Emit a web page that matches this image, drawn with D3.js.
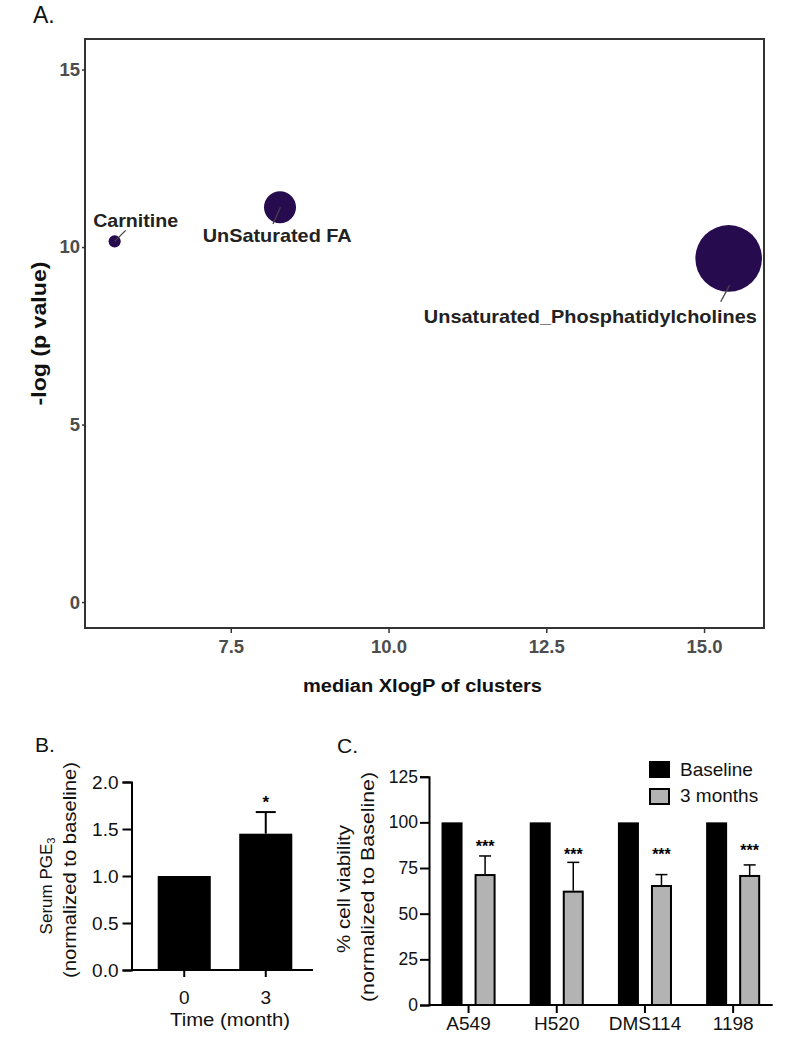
<!DOCTYPE html>
<html><head><meta charset="utf-8">
<script src="https://cdn.jsdelivr.net/npm/d3@7"></script>
<style>
body{margin:0;background:#fff}
svg{display:block;font-family:"Liberation Sans",Arial,Helvetica,sans-serif}
</style>
</head><body>
<svg id="chart" width="799" height="1050"></svg>
<script>
// ---------- Panel A data ----------
const clusterNames = ["Carnitine", "UnSaturated FA", "Unsaturated_Phosphatidylcholines"];
const medianXlogP = [5.66, 8.28, 15.39];
const negLogP = [10.16, 11.12, 9.68];
const clusterSize = [4, 28, 121];
const xTicksA = [7.5, 10.0, 12.5, 15.0];
const yTicksA = [0, 5, 10, 15];

// ---------- Panel B data ----------
const timeMonths = ["0", "3"];
const pge3Mean = [1.0, 1.45];
const pge3Err = [0, 0.23];
const pge3Sig = ["", "*"];
const pge3SigLevel = [null, 1.83];
const yTicksB = [0, 0.5, 1.0, 1.5, 2.0];

// ---------- Panel C data ----------
const cellLines = ["A549", "H520", "DMS114", "1198"];
const groups = ["Baseline", "3 months"];
const baselineViability = [100, 100, 100, 100];
const threeMonthViability = [71.7, 62.6, 65.7, 71.2];
const threeMonthErr = [9.9, 15.5, 5.7, 5.5];
const sigLabels = ["***", "***", "***", "***"];
const sigLevel = [88.7, 84.5, 84.5, 86.5];
const yTicksC = [0, 25, 50, 75, 100, 125];

const svg = d3.select("#chart");

// =============== PANEL A ===============
const A = {left: 85, right: 764, top: 39, bottom: 628};
const xA = d3.scaleLinear().domain([5.19, 15.95]).range([A.left, A.right]);
const yA = d3.scaleLinear().domain([-0.73, 15.86]).range([A.bottom, A.top]);
const rA = d3.scaleSqrt().domain([0, d3.max(clusterSize)]).range([0, 33.3]);

svg.append("text").attr("x", 33).attr("y", 23).attr("font-size", 23).attr("fill", "#111").text("A.");

const gA = svg.append("g");
gA.append("rect").attr("x", A.left).attr("y", A.top)
  .attr("width", A.right - A.left).attr("height", A.bottom - A.top)
  .attr("fill", "none").attr("stroke", "#333").attr("stroke-width", 2);

const axAy = gA.append("g").attr("transform", `translate(${A.left},0)`)
  .call(d3.axisLeft(yA).tickValues(yTicksA).tickSize(3).tickPadding(2).tickFormat(d3.format("d")));
const axAx = gA.append("g").attr("transform", `translate(0,${A.bottom})`)
  .call(d3.axisBottom(xA).tickValues(xTicksA).tickSize(5).tickPadding(7).tickFormat(d3.format(".1f")));
[axAy, axAx].forEach(g => {
  g.select(".domain").remove();
  g.selectAll(".tick line").attr("stroke", "#333").attr("stroke-width", 1.5);
  g.selectAll(".tick text").attr("font-size", 18.5).attr("font-weight", "bold")
    .attr("fill", "#4d4d4d").attr("font-family", "Liberation Sans, Arial, sans-serif");
});

svg.append("text").attr("transform", `translate(46,${(A.top + A.bottom) / 2}) rotate(-90)`)
  .attr("text-anchor", "middle").attr("font-size", 20).attr("font-weight", "bold")
  .attr("textLength", 144).attr("lengthAdjust", "spacingAndGlyphs").attr("fill", "#111")
  .text("-log (p value)");
svg.append("text").attr("x", (A.left + A.right) / 2 - 2).attr("y", 692)
  .attr("text-anchor", "middle").attr("font-size", 18).attr("font-weight", "bold")
  .attr("textLength", 239).attr("lengthAdjust", "spacingAndGlyphs").attr("fill", "#111")
  .text("median XlogP of clusters");

const bubbles = clusterNames.map((n, i) => ({name: n, x: medianXlogP[i], y: negLogP[i], s: clusterSize[i]}));
// label placement (repel-style offsets in px from the point)
const labelLayout = [
  {dx: 21, dy: -14, len: 85, seg: [0, 0, 11, -11]},
  {dx: -2.8, dy: 34.7, len: 149, seg: [0.4, 0, -7, 16.7]},
  {dx: -138.3, dy: 64.7, len: 333, seg: [1, 26.7, -8, 43.4]}
];
gA.selectAll("circle.b").data(bubbles).join("circle").attr("class", "b")
  .attr("cx", d => xA(d.x)).attr("cy", d => yA(d.y)).attr("r", d => rA(d.s))
  .attr("fill", "#260c4f");
gA.selectAll("line.seg").data(bubbles).join("line").attr("class", "seg")
  .attr("x1", (d, i) => xA(d.x) + labelLayout[i].seg[0])
  .attr("y1", (d, i) => yA(d.y) + labelLayout[i].seg[1])
  .attr("x2", (d, i) => xA(d.x) + labelLayout[i].seg[2])
  .attr("y2", (d, i) => yA(d.y) + labelLayout[i].seg[3])
  .attr("stroke", "#444").attr("stroke-width", 1.3);
gA.selectAll("text.lab").data(bubbles).join("text").attr("class", "lab")
  .attr("x", (d, i) => xA(d.x) + labelLayout[i].dx)
  .attr("y", (d, i) => yA(d.y) + labelLayout[i].dy)
  .attr("text-anchor", "middle").attr("font-size", 18.5).attr("font-weight", "bold")
  .attr("fill", "#222")
  .attr("textLength", (d, i) => labelLayout[i].len).attr("lengthAdjust", "spacingAndGlyphs")
  .text(d => d.name);

// =============== PANEL B ===============
const B = {left: 131.5, right: 313, top: 782, bottom: 970};
const yB = d3.scaleLinear().domain([0, 2]).range([B.bottom, B.top]);
const xB = d3.scaleBand().domain(timeMonths).range([137, B.right]).paddingInner(0.349).paddingOuter(0.254);

svg.append("text").attr("x", 35).attr("y", 752).attr("font-size", 21).attr("fill", "#111").text("B.");
const gB = svg.append("g");
const bData = timeMonths.map((t, i) => ({t, v: pge3Mean[i], e: pge3Err[i], s: pge3Sig[i], sl: pge3SigLevel[i]}));

gB.selectAll("rect.bar").data(bData).join("rect").attr("class", "bar")
  .attr("x", d => xB(d.t)).attr("width", xB.bandwidth())
  .attr("y", d => yB(d.v)).attr("height", d => yB(0) - yB(d.v)).attr("fill", "#000");
const bErr = bData.filter(d => d.e > 0);
gB.selectAll("line.ev").data(bErr).join("line").attr("class", "ev")
  .attr("x1", d => xB(d.t) + xB.bandwidth() / 2).attr("x2", d => xB(d.t) + xB.bandwidth() / 2)
  .attr("y1", d => yB(d.v)).attr("y2", d => yB(d.v + d.e)).attr("stroke", "#000").attr("stroke-width", 2);
gB.selectAll("line.ec").data(bErr).join("line").attr("class", "ec")
  .attr("x1", d => xB(d.t) + xB.bandwidth() / 2 - 10).attr("x2", d => xB(d.t) + xB.bandwidth() / 2 + 10)
  .attr("y1", d => yB(d.v + d.e)).attr("y2", d => yB(d.v + d.e)).attr("stroke", "#000").attr("stroke-width", 2);
gB.selectAll("text.sig").data(bData.filter(d => d.s)).join("text").attr("class", "sig")
  .attr("x", d => xB(d.t) + xB.bandwidth() / 2).attr("y", d => yB(d.sl) + 10)
  .attr("text-anchor", "middle").attr("font-size", 17).attr("font-weight", "bold").text(d => d.s);

const axBy = gB.append("g").attr("transform", `translate(${B.left},0)`)
  .call(d3.axisLeft(yB).tickValues(yTicksB).tickSize(9).tickPadding(4).tickFormat(d3.format(".1f")));
axBy.select(".domain").attr("stroke", "#000").attr("stroke-width", 2);
axBy.selectAll(".tick line").attr("stroke", "#000").attr("stroke-width", 2);
axBy.selectAll(".tick text").attr("font-size", 19).attr("fill", "#111").attr("font-family", "Liberation Sans, Arial, sans-serif");
gB.append("line").attr("x1", B.left).attr("x2", B.right).attr("y1", yB(0)).attr("y2", yB(0))
  .attr("stroke", "#000").attr("stroke-width", 2);
const axBx = gB.append("g").attr("transform", `translate(0,${B.bottom})`)
  .call(d3.axisBottom(xB).tickSize(7).tickPadding(14));
axBx.select(".domain").remove();
axBx.selectAll(".tick line").attr("stroke", "#000").attr("stroke-width", 2);
axBx.selectAll(".tick text").attr("font-size", 19).attr("fill", "#111").attr("font-family", "Liberation Sans, Arial, sans-serif");

svg.append("text").attr("x", 230).attr("y", 1026).attr("text-anchor", "middle").attr("font-size", 19)
  .attr("textLength", 120).attr("lengthAdjust", "spacingAndGlyphs").attr("fill", "#111").text("Time (month)");
const tB1 = svg.append("text").attr("transform", "translate(52,886) rotate(-90)")
  .attr("text-anchor", "middle").attr("font-size", 17).attr("fill", "#111");
tB1.append("tspan").text("Serum PGE");
tB1.append("tspan").attr("font-size", 11).attr("dy", 3).text("3");
svg.append("text").attr("transform", "translate(76,870) rotate(-90)")
  .attr("text-anchor", "middle").attr("font-size", 17.5).attr("fill", "#111")
  .attr("textLength", 216).attr("lengthAdjust", "spacingAndGlyphs").text("(normalized to baseline)");

// =============== PANEL C ===============
const C = {left: 429, right: 772.7, top: 776.7, bottom: 1005};
const yC = d3.scaleLinear().domain([0, 125]).range([C.bottom, C.top]);
const xC = d3.scaleBand().domain(cellLines).range([C.left, C.right]).paddingInner(0.387).paddingOuter(0.142);
const xS = d3.scaleBand().domain(groups).range([0, xC.bandwidth()]).paddingInner(0.364);
const colors = {"Baseline": "#000", "3 months": "#b3b3b3"};

svg.append("text").attr("x", 337).attr("y", 753).attr("font-size", 21).attr("fill", "#111").text("C.");
const gC = svg.append("g");
const cData = [];
cellLines.forEach((c, i) => {
  cData.push({c, g: "Baseline", v: baselineViability[i], e: 0});
  cData.push({c, g: "3 months", v: threeMonthViability[i], e: threeMonthErr[i], s: sigLabels[i], sl: sigLevel[i]});
});
const cErr = cData.filter(d => d.e > 0);
const cx = d => xC(d.c) + xS(d.g) + xS.bandwidth() / 2;
gC.selectAll("line.ev").data(cErr).join("line").attr("class", "ev")
  .attr("x1", cx).attr("x2", cx).attr("y1", d => yC(d.v)).attr("y2", d => yC(d.v + d.e))
  .attr("stroke", "#000").attr("stroke-width", 1.5);
gC.selectAll("line.ec").data(cErr).join("line").attr("class", "ec")
  .attr("x1", d => cx(d) - 6).attr("x2", d => cx(d) + 6)
  .attr("y1", d => yC(d.v + d.e)).attr("y2", d => yC(d.v + d.e))
  .attr("stroke", "#000").attr("stroke-width", 1.5);
gC.selectAll("rect.bar").data(cData).join("rect").attr("class", "bar")
  .attr("x", d => xC(d.c) + xS(d.g) + 1).attr("width", xS.bandwidth() - 2)
  .attr("y", d => yC(d.v) + 1).attr("height", d => yC(0) - yC(d.v) - 1)
  .attr("fill", d => colors[d.g]).attr("stroke", "#000").attr("stroke-width", 2);
gC.selectAll("text.sig").data(cErr).join("text").attr("class", "sig")
  .attr("x", cx).attr("y", d => yC(d.sl) + 9)
  .attr("text-anchor", "middle").attr("font-size", 16).attr("font-weight", "bold").text(d => d.s);

const axCy = gC.append("g").attr("transform", `translate(${C.left},0)`)
  .call(d3.axisLeft(yC).tickValues(yTicksC).tickSize(9).tickPadding(2));
axCy.select(".domain").attr("stroke", "#000").attr("stroke-width", 2);
axCy.selectAll(".tick line").attr("stroke", "#000").attr("stroke-width", 2);
axCy.selectAll(".tick text").attr("font-size", 17.5).attr("fill", "#111").attr("font-family", "Liberation Sans, Arial, sans-serif");
gC.append("line").attr("x1", C.left).attr("x2", C.right).attr("y1", yC(0)).attr("y2", yC(0))
  .attr("stroke", "#000").attr("stroke-width", 2);
const axCx = gC.append("g").attr("transform", `translate(0,${C.bottom})`)
  .call(d3.axisBottom(xC).tickSize(8).tickPadding(4));
axCx.select(".domain").remove();
axCx.selectAll(".tick line").attr("stroke", "#000").attr("stroke-width", 2);
axCx.selectAll(".tick text").attr("font-size", 19).attr("fill", "#111").attr("font-family", "Liberation Sans, Arial, sans-serif");

svg.append("text").attr("transform", "translate(350,889) rotate(-90)")
  .attr("text-anchor", "middle").attr("font-size", 18).attr("fill", "#111")
  .attr("textLength", 128).attr("lengthAdjust", "spacingAndGlyphs").text("% cell viability");
svg.append("text").attr("transform", "translate(374,887) rotate(-90)")
  .attr("text-anchor", "middle").attr("font-size", 18).attr("fill", "#111")
  .attr("textLength", 230).attr("lengthAdjust", "spacingAndGlyphs").text("(normalized to Baseline)");

// legend
const leg = svg.append("g").attr("transform", "translate(649,761)");
leg.selectAll("rect").data(groups).join("rect")
  .attr("x", 1).attr("y", (d, i) => i * 27 + 1).attr("width", 19).attr("height", 15)
  .attr("fill", d => colors[d]).attr("stroke", "#000").attr("stroke-width", 2);
leg.selectAll("text").data(groups).join("text")
  .attr("x", 31).attr("y", (d, i) => i * 26 + 15).attr("font-size", 19).attr("fill", "#111")
  .text(d => d);
</script>
</body></html>
